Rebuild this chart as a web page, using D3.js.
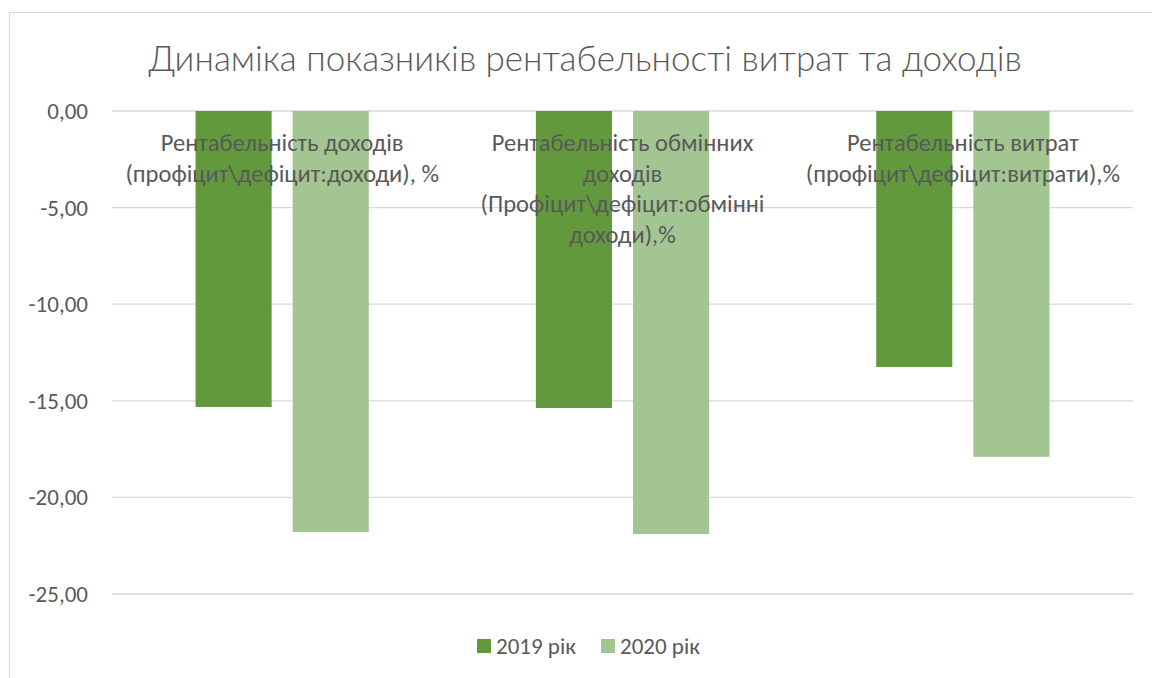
<!DOCTYPE html>
<meta charset="utf-8">
<style>
body { margin: 0; background: #fff; }
text { font-family: Carlito, "Open Sans", "Liberation Sans", sans-serif; fill: #595959; }
.grid line { stroke: #d9d9d9; stroke-width: 1.3px; }
.title { font-family: Lato, Carlito, sans-serif; font-weight: 300; }
</style>
<svg width="1152" height="678"></svg>
<script src="https://d3js.org/d3.v7.min.js"></script>
<script>

var categories = [
  ["Рентабельність доходів", "(профіцит\\дефіцит:доходи), %"],
  ["Рентабельність обмінних", "доходів", "(Профіцит\\дефіцит:обмінні", "доходи),%"],
  ["Рентабельність витрат", "(профіцит\\дефіцит:витрати),%"]
];
var seriesNames = ["2019 рік", "2020 рік"];
var values2019 = [-15.32, -15.37, -13.25];
var values2020 = [-21.79, -21.9, -17.9];
var yTicks = [0, -5, -10, -15, -20, -25];
var colors = ["#62993c", "#a3c591"];

var svg = d3.select("svg");

// chart border (cut off on the right and bottom, like the screenshot)
svg.append("rect")
    .attr("x", 9.5).attr("y", 12.5)
    .attr("width", 1200).attr("height", 700)
    .attr("fill", "none").attr("stroke", "#d9d9d9");

var x0 = d3.scaleBand()
    .domain(d3.range(categories.length))
    .range([112, 1133])
    .paddingInner(0.491)
    .paddingOuter(0.2455);

var x1 = d3.scaleBand()
    .domain(seriesNames)
    .range([0, x0.bandwidth()])
    .paddingInner(0.2165);

var y = d3.scaleLinear().domain([-25, 0]).range([594, 111]);

var fmt = function(v) { return d3.format(".2f")(v).replace(".", ",").replace("−", "-"); };

// gridlines
svg.append("g").attr("class", "grid")
  .selectAll("line").data(yTicks).enter().append("line")
    .attr("x1", 112).attr("x2", 1133)
    .attr("y1", function(d) { return y(d); })
    .attr("y2", function(d) { return y(d); });

// tick labels
svg.append("g").selectAll("text").data(yTicks).enter().append("text")
    .attr("x", 88)
    .attr("y", function(d) { return y(d); })
    .attr("dy", "0.35em")
    .attr("text-anchor", "end")
    .style("font-size", "23px")
    .text(fmt);

// bars
var rows = categories.map(function(c, i) {
  return [values2019[i], values2020[i]];
});

var groups = svg.append("g").selectAll("g").data(rows).enter().append("g")
    .attr("transform", function(d, i) { return "translate(" + x0(i) + ",0)"; });

groups.selectAll("rect")
  .data(function(d) { return d.map(function(v, j) { return {name: seriesNames[j], value: v, j: j}; }); })
  .enter().append("rect")
    .attr("x", function(d) { return x1(d.name); })
    .attr("y", y(0))
    .attr("width", x1.bandwidth())
    .attr("height", function(d) { return y(d.value) - y(0); })
    .attr("fill", function(d) { return colors[d.j]; });

// category labels, drawn over the bars
svg.append("g").selectAll("text").data(categories).enter().append("text")
    .attr("text-anchor", "middle")
    .style("font-size", "24.5px")
    .attr("transform", function(d, i) { return "translate(" + (x0(i) + x0.bandwidth() / 2) + ",0)"; })
  .selectAll("tspan").data(function(d) { return d; }).enter().append("tspan")
    .attr("x", 0)
    .attr("y", function(d, k) { return 151 + k * 30.5; })
    .text(function(d) { return d; });

// title
svg.append("text")
    .attr("class", "title")
    .attr("x", 585).attr("y", 71)
    .attr("text-anchor", "middle")
    .style("font-size", "35px")
    .text("Динаміка показників рентабельності витрат та доходів");

// legend
var legendX = [477, 601];
var legend = svg.append("g").selectAll("g").data(seriesNames).enter().append("g")
    .attr("transform", function(d, i) { return "translate(" + legendX[i] + ",639)"; });
legend.append("rect")
    .attr("width", 14).attr("height", 14)
    .attr("fill", function(d, i) { return colors[i]; });
legend.append("text")
    .attr("x", 19).attr("y", 15)
    .style("font-size", "23px")
    .text(function(d) { return d; });

</script>
